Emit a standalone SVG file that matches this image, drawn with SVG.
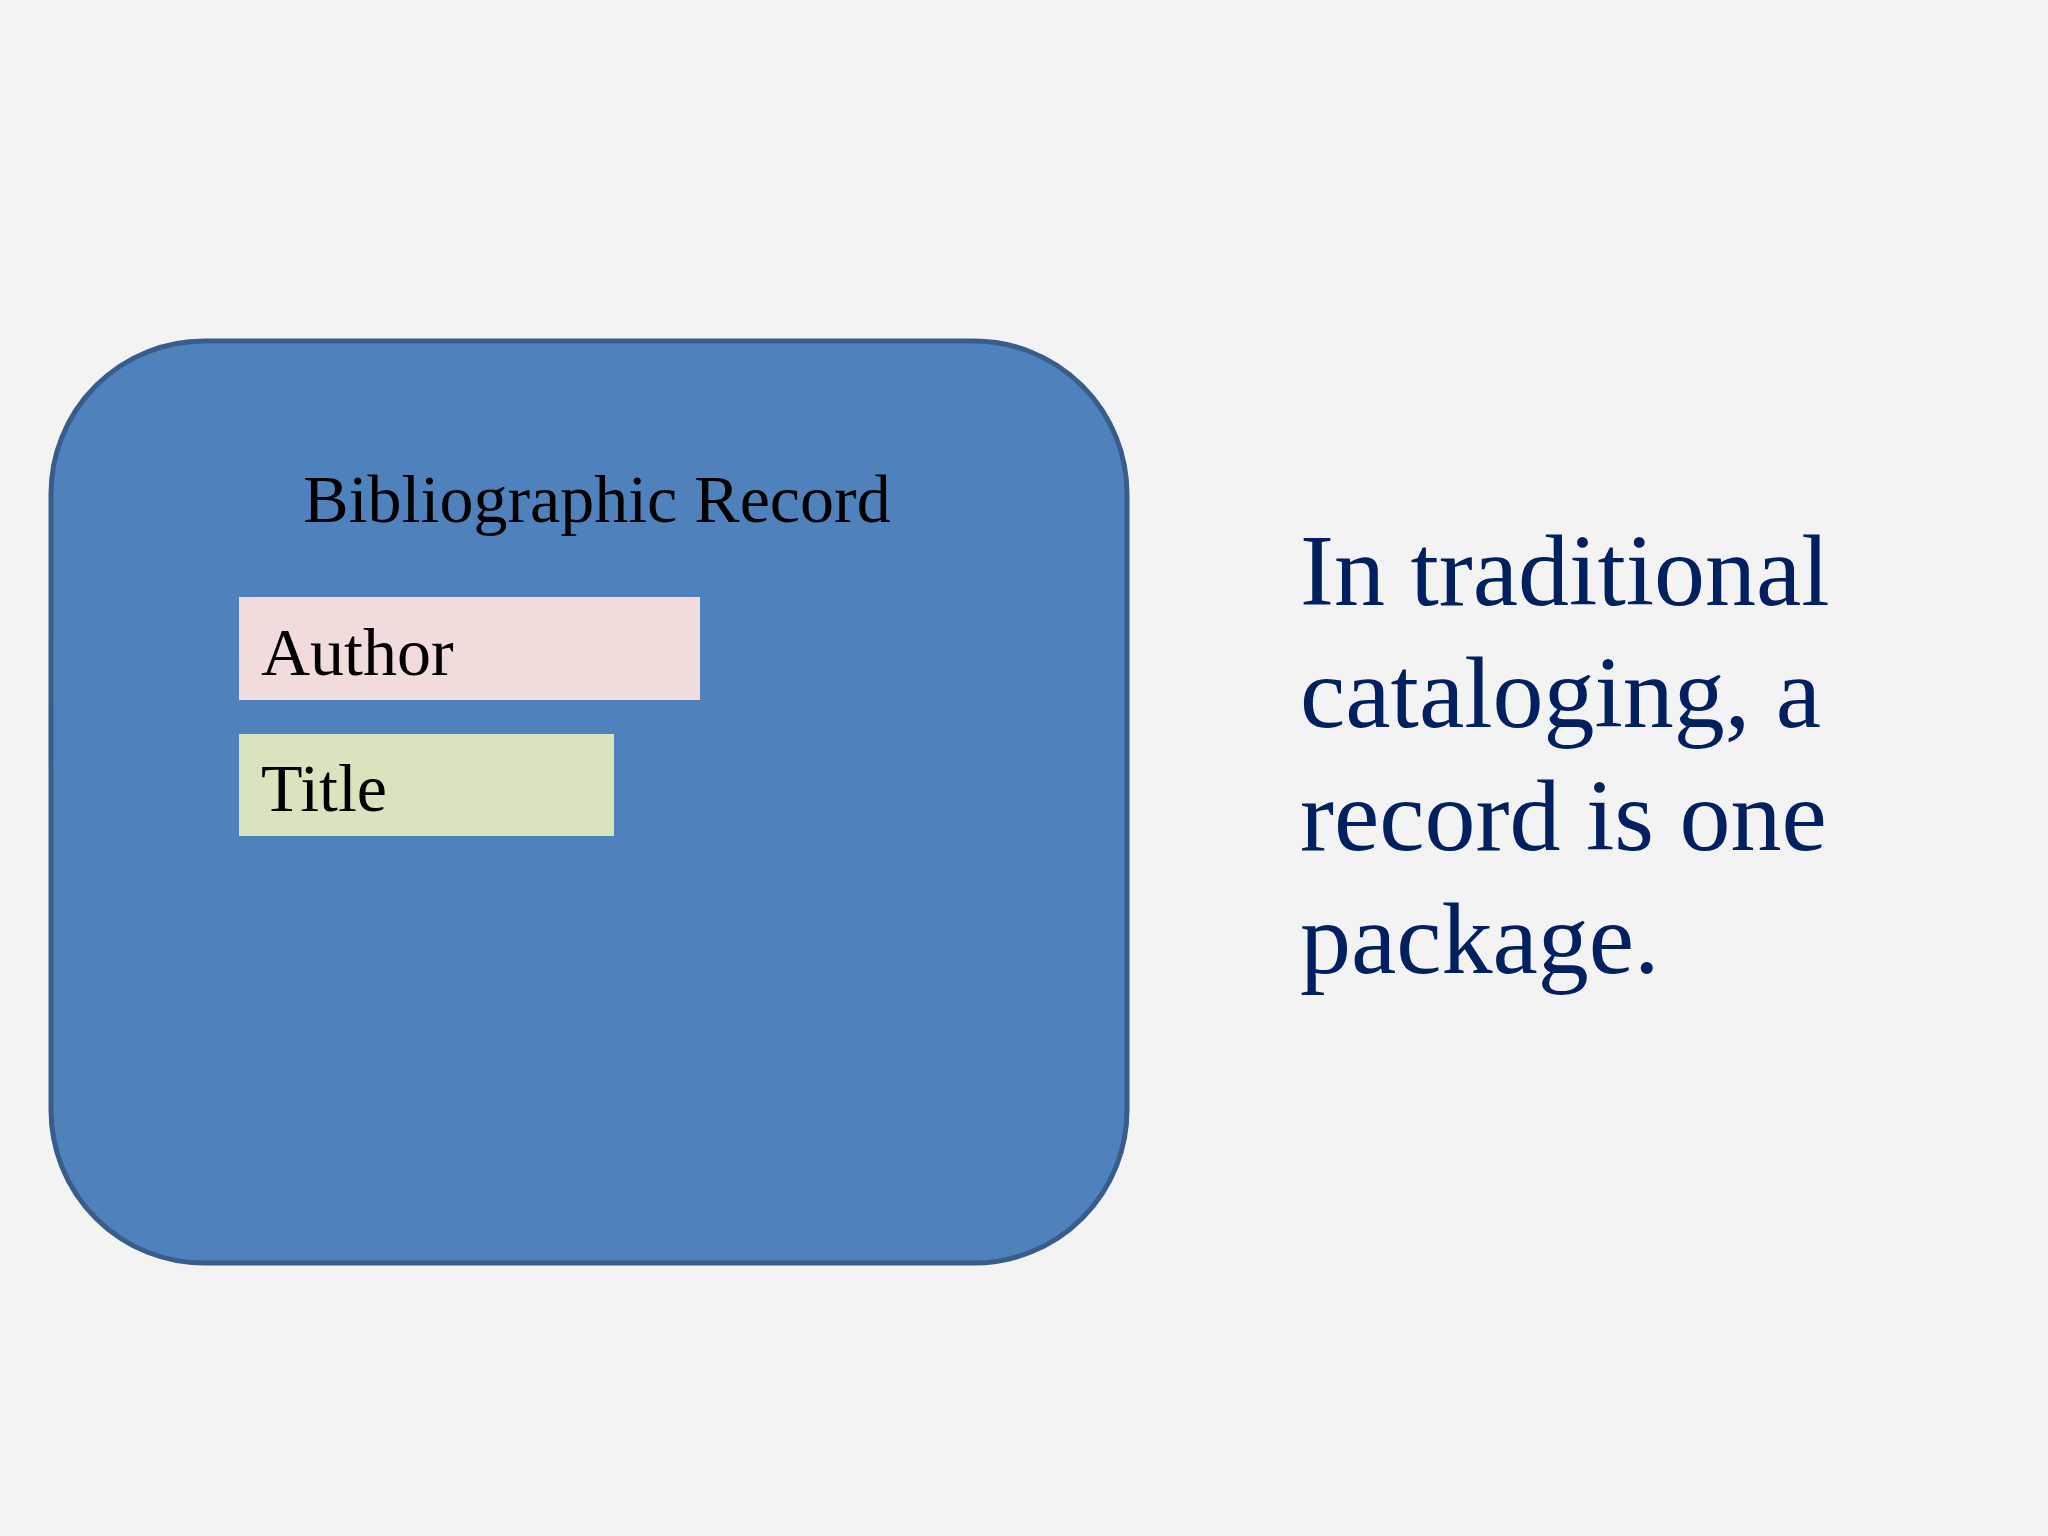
<svg xmlns="http://www.w3.org/2000/svg" width="2048" height="1536" viewBox="0 0 2048 1536">
<style>
.serif{font-family:"Liberation Serif","Times New Roman",serif}
.lbl{font-size:68px;fill:#000}
.body{font-size:102px;fill:#002060}
</style>
<rect width="2048" height="1536" fill="#f3f3f4"/>
<g id="record">
<rect x="51" y="341" width="1076" height="922" rx="153" ry="153" fill="#4f81bd" stroke="#385d8a" stroke-width="5"/>
<text class="serif lbl" x="597" y="522" text-anchor="middle">Bibliographic Record</text>
</g>
<g id="author">
<rect x="239" y="597" width="461" height="103" fill="#f2dcdb"/>
<text class="serif lbl" x="261" y="675">Author</text>
</g>
<g id="title">
<rect x="239" y="734" width="375" height="102" fill="#d7e4bd"/>
<text class="serif lbl" x="261" y="811">Title</text>
</g>
<g id="connectors"/>
<g id="caption">
<text class="serif body" x="1300" y="605">In traditional</text>
<text class="serif body" x="1300" y="727">cataloging, a</text>
<text class="serif body" x="1300" y="850">record is one</text>
<text class="serif body" x="1300" y="973">package.</text>
</g>
</svg>
